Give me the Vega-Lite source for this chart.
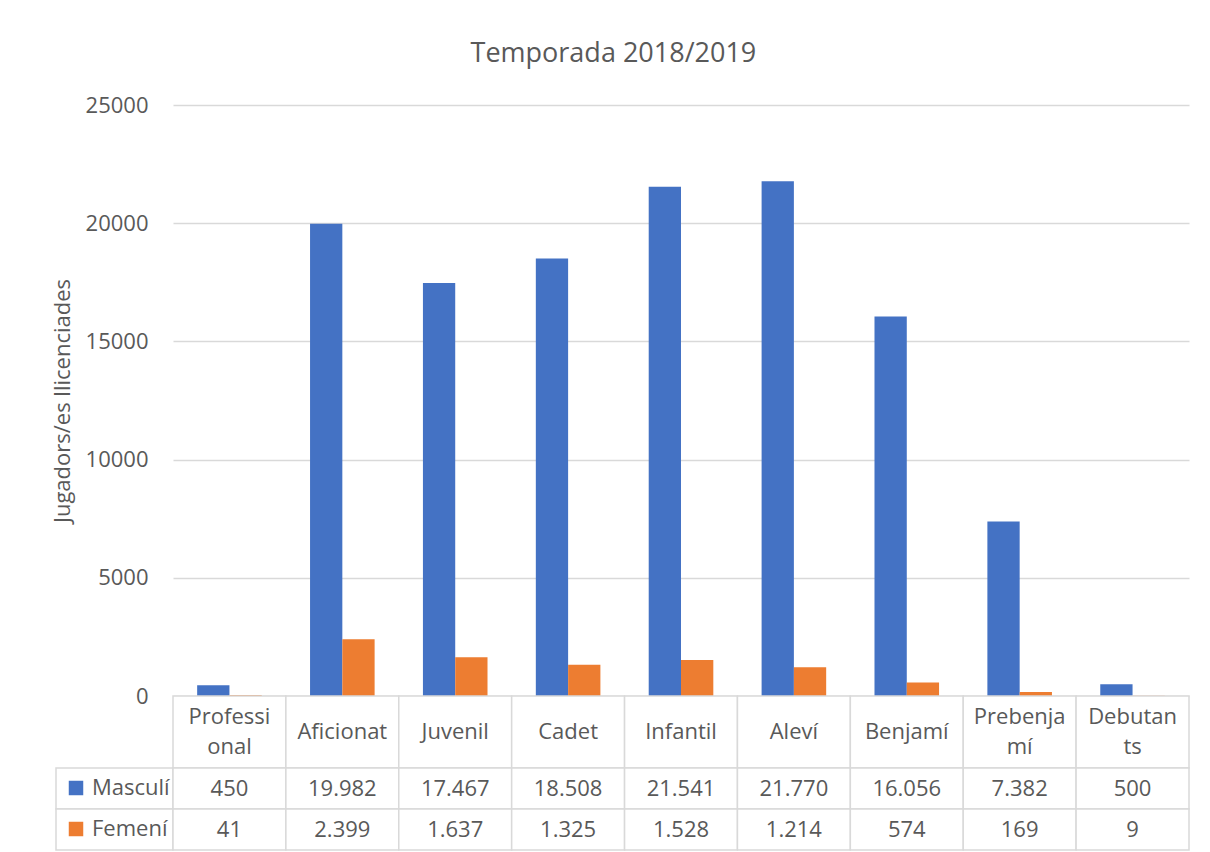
{
  "$schema": "https://vega.github.io/schema/vega-lite/v6.json",
  "autosize": {"type": "pad"},
  "padding": {"left": 51, "top": 40, "right": 0, "bottom": 0},
  "background": "white",
  "title": {
    "text": "Temporada 2018/2019",
    "fontSize": 27,
    "font": "Open Sans",
    "fontWeight": "normal",
    "color": "#595959",
    "anchor": "middle",
    "offset": 26,
    "dx": -7
  },
  "config": {
    "font": "Open Sans",
    "view": {"stroke": null},
    "locale": {
      "number": {"decimal": ",", "thousands": ".", "grouping": [3], "currency": ["", " €"]}
    }
  },
  "datasets": {
    "t": [
      {"cat": "Professional", "series": "Masculí", "value": 450},
      {"cat": "Aficionat", "series": "Masculí", "value": 19982},
      {"cat": "Juvenil", "series": "Masculí", "value": 17467},
      {"cat": "Cadet", "series": "Masculí", "value": 18508},
      {"cat": "Infantil", "series": "Masculí", "value": 21541},
      {"cat": "Aleví", "series": "Masculí", "value": 21770},
      {"cat": "Benjamí", "series": "Masculí", "value": 16056},
      {"cat": "Prebenjamí", "series": "Masculí", "value": 7382},
      {"cat": "Debutants", "series": "Masculí", "value": 500},
      {"cat": "Professional", "series": "Femení", "value": 41},
      {"cat": "Aficionat", "series": "Femení", "value": 2399},
      {"cat": "Juvenil", "series": "Femení", "value": 1637},
      {"cat": "Cadet", "series": "Femení", "value": 1325},
      {"cat": "Infantil", "series": "Femení", "value": 1528},
      {"cat": "Aleví", "series": "Femení", "value": 1214},
      {"cat": "Benjamí", "series": "Femení", "value": 574},
      {"cat": "Prebenjamí", "series": "Femení", "value": 169},
      {"cat": "Debutants", "series": "Femení", "value": 9}
    ],
    "cats": [
      {"cat": "Professional", "label": "Professi\nonal", "lines": 2},
      {"cat": "Aficionat", "label": "Aficionat", "lines": 1},
      {"cat": "Juvenil", "label": "Juvenil", "lines": 1},
      {"cat": "Cadet", "label": "Cadet", "lines": 1},
      {"cat": "Infantil", "label": "Infantil", "lines": 1},
      {"cat": "Aleví", "label": "Aleví", "lines": 1},
      {"cat": "Benjamí", "label": "Benjamí", "lines": 1},
      {"cat": "Prebenjamí", "label": "Prebenja\nmí", "lines": 2},
      {"cat": "Debutants", "label": "Debutan\nts", "lines": 2}
    ],
    "series": [
      {"series": "Masculí"},
      {"series": "Femení"}
    ]
  },
  "columns": 2,
  "spacing": 0,
  "bounds": "flush",
  "resolve": {"legend": {"color": "independent"}},
  "concat": [
    {
      "width": 117,
      "height": 591,
      "data": {"values": [{}]},
      "mark": {"type": "text", "text": ""}
    },
    {
      "width": 1016,
      "height": 591,
      "data": {"name": "t"},
      "mark": {"type": "bar"},
      "encoding": {
        "x": {
          "field": "cat", "type": "nominal", "sort": null,
          "scale": {"paddingInner": 0.428, "paddingOuter": 0.214},
          "axis": null
        },
        "xOffset": {
          "field": "series", "type": "nominal",
          "sort": ["Masculí", "Femení"],
          "scale": {"domain": ["Masculí", "Femení"], "paddingInner": 0, "paddingOuter": 0}
        },
        "y": {
          "field": "value", "type": "quantitative",
          "scale": {"domain": [0, 25000], "nice": false},
          "axis": {
            "values": [0, 5000, 10000, 15000, 20000, 25000],
            "format": "d",
            "grid": true, "gridColor": "#d9d9d9", "gridWidth": 1.5,
            "domain": false, "ticks": false,
            "labelPadding": 25, "labelFontSize": 22, "labelColor": "#595959", "labelFont": "Open Sans",
            "title": "Jugadors/es llicenciades",
            "titleFontSize": 22, "titleFontWeight": "normal", "titleColor": "#595959", "titleFont": "Open Sans",
            "titlePadding": 11
          }
        },
        "color": {
          "field": "series", "type": "nominal",
          "scale": {"domain": ["Masculí", "Femení"], "range": ["#4472c4", "#ed7d31"]},
          "legend": null
        }
      }
    },
    {
      "width": 117,
      "height": 72,
      "data": {"values": [{}]},
      "mark": {"type": "text", "text": ""}
    },
    {
      "width": 1016,
      "height": 72,
      "data": {"name": "cats"},
      "layer": [
        {
          "mark": {"type": "rect", "fill": "white", "stroke": "#d9d9d9", "strokeWidth": 1.5},
          "encoding": {
            "x": {"field": "cat", "type": "nominal", "sort": null, "scale": {"paddingInner": 0, "paddingOuter": 0}, "axis": null}
          }
        },
        {
          "transform": [{"filter": "datum.lines == 1"}],
          "mark": {"type": "text", "fontSize": 22, "color": "#595959", "baseline": "middle"},
          "encoding": {
            "x": {"field": "cat", "type": "nominal", "sort": null, "axis": null},
            "text": {"field": "label"}
          }
        },
        {
          "transform": [{"filter": "datum.lines == 2"}],
          "mark": {"type": "text", "fontSize": 22, "color": "#595959", "lineBreak": "\n", "lineHeight": 30, "baseline": "middle", "dy": -15},
          "encoding": {
            "x": {"field": "cat", "type": "nominal", "sort": null, "axis": null},
            "text": {"field": "label"}
          }
        }
      ]
    },
    {
      "width": 117,
      "height": 82,
      "data": {"name": "series"},
      "layer": [
        {
          "mark": {"type": "rect", "fill": "white", "stroke": "#d9d9d9", "strokeWidth": 1.5},
          "encoding": {
            "y": {"field": "series", "type": "nominal", "sort": ["Masculí", "Femení"], "scale": {"paddingInner": 0, "paddingOuter": 0}, "axis": null}
          }
        },
        {
          "mark": {"type": "point", "filled": true, "opacity": 0},
          "encoding": {
            "y": {"field": "series", "type": "nominal", "sort": ["Masculí", "Femení"], "axis": null},
            "color": {
              "field": "series", "type": "nominal",
              "scale": {"domain": ["Masculí", "Femení"], "range": ["#4472c4", "#ed7d31"]},
              "legend": {
                "orient": "top-left", "offset": 9, "padding": 0, "title": null,
                "symbolType": "square", "symbolSize": 210, "symbolStrokeWidth": 0, "symbolOpacity": 1,
                "labelFontSize": 22, "labelColor": "#595959", "labelFont": "Open Sans", "labelOffset": 5,
                "rowPadding": 19
              }
            }
          }
        }
      ]
    },
    {
      "width": 1016,
      "height": 82,
      "data": {"name": "t"},
      "layer": [
        {
          "mark": {"type": "rect", "fill": "white", "stroke": "#d9d9d9", "strokeWidth": 1.5},
          "encoding": {
            "x": {"field": "cat", "type": "nominal", "sort": null, "scale": {"paddingInner": 0, "paddingOuter": 0}, "axis": null},
            "y": {"field": "series", "type": "nominal", "sort": ["Masculí", "Femení"], "scale": {"paddingInner": 0, "paddingOuter": 0}, "axis": null}
          }
        },
        {
          "mark": {"type": "text", "fontSize": 22, "color": "#595959", "baseline": "middle"},
          "encoding": {
            "x": {"field": "cat", "type": "nominal", "sort": null, "axis": null},
            "y": {"field": "series", "type": "nominal", "sort": ["Masculí", "Femení"], "axis": null},
            "text": {"field": "value", "type": "quantitative", "format": ","}
          }
        }
      ]
    }
  ]
}
